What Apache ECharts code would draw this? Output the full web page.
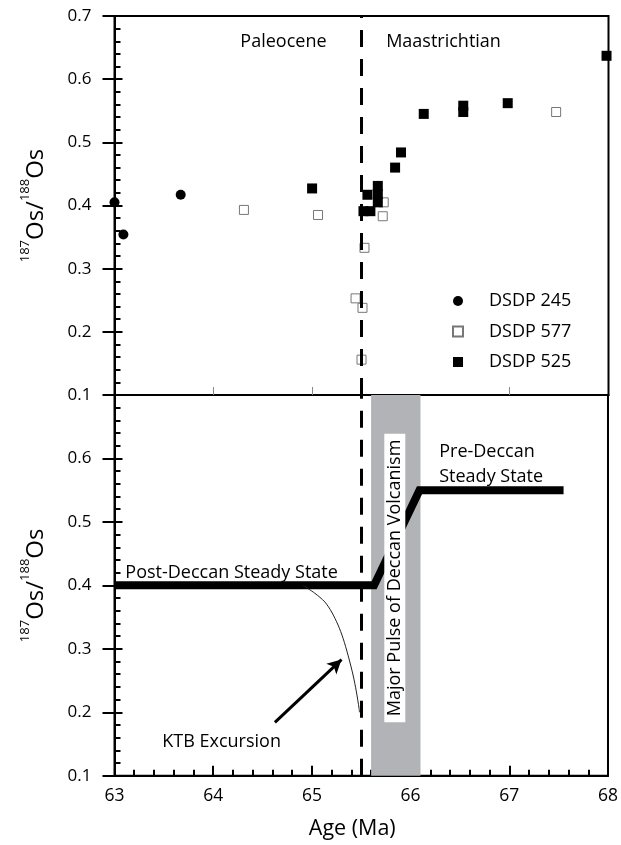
<!DOCTYPE html>
<html>
<head>
<meta charset="utf-8">
<script src="https://cdn.jsdelivr.net/npm/echarts@6/dist/echarts.min.js"></script>
<style>html,body{margin:0;padding:0;background:#fff}#c{width:621px;height:845px}</style>
</head>
<body>
<div id="c"></div>
<script>
// ---- data ----
const ages245 = [63.0, 63.09, 63.67];
const vals245 = [0.405, 0.354, 0.417];
const ages577 = [64.31, 65.06, 65.725, 65.715, 65.53, 65.44, 65.51, 65.50, 67.47];
const vals577 = [0.393, 0.385, 0.405, 0.383, 0.333, 0.253, 0.238, 0.156, 0.548];
const ages525 = [65.0, 65.56, 65.52, 65.59, 65.665, 65.665, 65.665, 65.84, 65.90, 66.13, 66.53, 66.53, 66.98, 67.98];
const vals525 = [0.427, 0.417, 0.391, 0.391, 0.431, 0.418, 0.405, 0.460, 0.484, 0.545, 0.558, 0.548, 0.562, 0.637];

const steadyAges = [63.0, 65.63, 66.09, 67.55];
const steadyVals = [0.40, 0.40, 0.55, 0.55];
const ktbAges = [64.91, 65.03, 65.13, 65.20, 65.265, 65.316, 65.366, 65.417, 65.451, 65.478, 65.482];
const ktbVals = [0.400, 0.3875, 0.374, 0.358, 0.3375, 0.3165, 0.290, 0.2587, 0.232, 0.206, 0.200];
const arrowFrom = [64.625, 0.184];
const arrowTo = [65.30, 0.283];
const ktbBoundary = 65.5;
const deccanBand = [65.6, 66.1];

const topLabels = ['Paleocene', 'Maastrichtian'];
const topLabelAges = [64.71, 66.33];
const topLabelVals = [0.659, 0.659];
const botLabels = ['Post-Deccan Steady State', 'Pre-Deccan', 'Steady State', 'KTB Excursion'];
const botLabelAges = [63.11, 66.29, 66.29, 64.085];
const botLabelVals = [0.420, 0.611, 0.571, 0.154];
const botLabelAlign = ['left', 'left', 'left', 'center'];
const bandLabel = 'Major Pulse of Deccan Volcanism';
const bandLabelPos = [65.84, 0.4116];

const xTicks = [63, 64, 65, 66, 67, 68];
const yTicks = [0.1, 0.2, 0.3, 0.4, 0.5, 0.6, 0.7];

// ---- chart ----
const FONT = 'Open Sans';
const TXT = '#000';
const zip = (a, b) => a.map((v, i) => [v, b[i]]);
const chart = echarts.init(document.getElementById('c'), null, {renderer: 'canvas'});

const gridL = 114.5, gridR = 12.5;
const yLabelAxis = (gi, showMax) => ({
  type: 'value', gridIndex: gi, min: yTicks[0], max: yTicks[yTicks.length - 1], interval: 0.1,
  position: 'left',
  axisLine: {show: true, lineStyle: {color: '#000', width: 2}},
  axisTick: {show: true, inside: true, length: 8, lineStyle: {color: '#000', width: 2}},
  minorTick: {show: true, splitNumber: 5, length: 6, lineStyle: {color: '#000', width: 2}},
  splitLine: {show: false}, minorSplitLine: {show: false},
  axisLabel: {show: true, margin: 23, fontFamily: FONT, fontSize: 17, color: TXT,
    showMaxLabel: showMax, formatter: v => v.toFixed(1)},
  name: '{sup|187}{b|Os/}{sup|188}{b|Os}', nameLocation: 'middle', nameGap: 66, nameRotate: 90,
  nameTextStyle: {rich: {
    b: {fontFamily: FONT, fontSize: 24, lineHeight: 30, color: TXT, verticalAlign: 'bottom'},
    sup: {fontFamily: FONT, fontSize: 13, lineHeight: 30, color: TXT, verticalAlign: 'top', padding: [0, 0, 12, 0]}
  }}
});
const yOuterAxis = (gi) => ({
  type: 'value', gridIndex: gi, min: yTicks[0], max: yTicks[yTicks.length - 1], interval: 0.1,
  position: 'left',
  axisLine: {show: false},
  axisTick: {show: true, inside: false, length: 12, lineStyle: {color: '#000', width: 2}},
  axisLabel: {show: false}, splitLine: {show: false}
});

const textSeries = (xi, yi, names, ages, vals, aligns) => ({
  type: 'scatter', xAxisIndex: xi, yAxisIndex: yi, symbolSize: 0, z: 12, silent: true,
  itemStyle: {opacity: 1},
  data: names.map((n, i) => ({
    value: [ages[i], vals[i]], name: n,
    label: {show: true, position: 'inside', align: aligns ? aligns[i] : 'center', verticalAlign: 'middle',
      formatter: n, fontFamily: FONT, fontSize: 18, color: TXT, opacity: 1}
  }))
});

const option = {
  animation: false,
  backgroundColor: '#fff',
  grid: [
    {left: gridL, right: gridR, top: 16, height: 379, show: true, borderColor: '#000', borderWidth: 2, containLabel: false},
    {left: gridL, right: gridR, top: 395, height: 380.7, show: true, borderColor: '#000', borderWidth: 2, containLabel: false}
  ],
  xAxis: [
    {type: 'value', gridIndex: 0, min: xTicks[0], max: xTicks[xTicks.length - 1], interval: 1, position: 'bottom',
      axisLine: {show: true, lineStyle: {color: '#000', width: 2}},
      axisTick: {show: true, inside: true, length: 8, customValues: [64, 65, 67], lineStyle: {color: '#888', width: 1}},
      axisLabel: {show: false}, splitLine: {show: false}},
    {type: 'value', gridIndex: 1, min: xTicks[0], max: xTicks[xTicks.length - 1], interval: 1, position: 'bottom',
      axisLine: {show: true, lineStyle: {color: '#000', width: 2}},
      axisTick: {show: true, inside: true, length: 10, lineStyle: {color: '#000', width: 2}},
      minorTick: {show: true, splitNumber: 5, length: 6, lineStyle: {color: '#000', width: 2}},
      axisLabel: {show: true, margin: 11, fontFamily: FONT, fontSize: 17.5, color: TXT},
      splitLine: {show: false},
      name: 'Age (Ma)', nameLocation: 'middle', nameGap: 42,
      nameTextStyle: {fontFamily: FONT, fontSize: 21.5, color: TXT, padding: [0, 18, 0, 0]}}
  ],
  yAxis: [
    yLabelAxis(0, true),
    yOuterAxis(0),
    yLabelAxis(1, false),
    yOuterAxis(1)
  ],
  legend: {
    data: ['DSDP 245', 'DSDP 577', 'DSDP 525'],
    orient: 'vertical', left: 452, top: 292, padding: 0,
    itemWidth: 10, itemHeight: 10, itemGap: 12.5,
    textStyle: {fontFamily: FONT, fontSize: 18, color: TXT, padding: [0, 0, 0, 21]}
  },
  series: [
    {name: 'DSDP 245', type: 'scatter', xAxisIndex: 0, yAxisIndex: 0, symbol: 'circle', symbolSize: 10,
      itemStyle: {color: '#000', opacity: 1}, data: zip(ages245, vals245), z: 5},
    {name: 'DSDP 577', type: 'scatter', xAxisIndex: 0, yAxisIndex: 0, symbol: 'rect', symbolSize: 9,
      itemStyle: {color: '#fff', borderColor: '#777', borderWidth: 1, opacity: 1}, data: zip(ages577, vals577), z: 4},
    {name: 'DSDP 525', type: 'scatter', xAxisIndex: 0, yAxisIndex: 0, symbol: 'rect', symbolSize: 10,
      itemStyle: {color: '#000', opacity: 1}, data: zip(ages525, vals525), z: 6},
    // KTB boundary in top panel
    {type: 'line', xAxisIndex: 0, yAxisIndex: 0, data: [], z: 3, silent: true,
      markLine: {silent: true, symbol: ['none', 'none'], label: {show: false},
        lineStyle: {color: '#000', width: 3, type: [17, 12]}, data: [{xAxis: ktbBoundary}]}},
    textSeries(0, 0, topLabels, topLabelAges, topLabelVals, null),
    // Deccan band
    {type: 'line', xAxisIndex: 1, yAxisIndex: 2, data: [], z: 1, silent: true,
      markArea: {silent: true, itemStyle: {color: '#b1b3b6', opacity: 1}, data: [[{xAxis: deccanBand[0]}, {xAxis: deccanBand[1]}]]}},
    // KTB boundary in bottom panel
    {type: 'line', xAxisIndex: 1, yAxisIndex: 2, data: [], z: 3, silent: true,
      markLine: {silent: true, symbol: ['none', 'none'], label: {show: false},
        lineStyle: {color: '#000', width: 3, type: [17, 12]}, data: [{xAxis: ktbBoundary}]}},
    // steady state line
    {type: 'line', xAxisIndex: 1, yAxisIndex: 2, data: zip(steadyAges, steadyVals), showSymbol: false, symbol: 'none',
      lineStyle: {color: '#000', width: 8, join: 'miter'}, z: 4, silent: true},
    // KTB excursion curve
    {type: 'line', xAxisIndex: 1, yAxisIndex: 2, data: zip(ktbAges, ktbVals), showSymbol: false, symbol: 'none', smooth: 0.3,
      lineStyle: {color: '#222', width: 1}, z: 4, silent: true},
    // arrow
    {type: 'line', xAxisIndex: 1, yAxisIndex: 2, data: [], z: 5, silent: true,
      markLine: {silent: true, symbol: ['none', 'arrow'], symbolSize: [11, 14], label: {show: false},
        lineStyle: {color: '#000', width: 3, type: 'solid'},
        data: [[{coord: arrowFrom}, {coord: arrowTo}]]}},
    textSeries(1, 2, botLabels, botLabelAges, botLabelVals, botLabelAlign),
    // band label box
    {type: 'scatter', xAxisIndex: 1, yAxisIndex: 2, symbolSize: 0, z: 10, silent: true, itemStyle: {opacity: 1},
      data: [{value: bandLabelPos, label: {show: true, position: 'inside', rotate: 90, formatter: bandLabel,
        fontFamily: FONT, fontSize: 18, color: TXT, backgroundColor: '#fff', padding: [2, 6, 1, 6]}}]}
  ]
};
chart.setOption(option);
</script>
</body>
</html>
